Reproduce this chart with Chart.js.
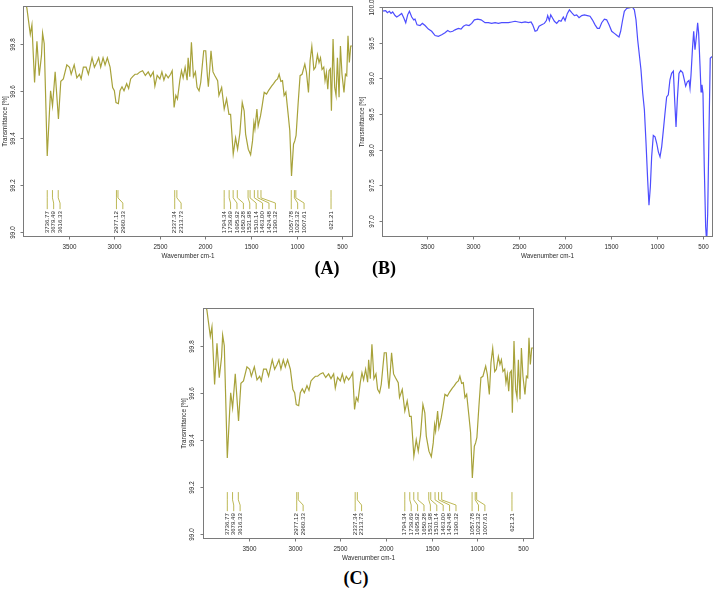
<!DOCTYPE html>
<html><head><meta charset="utf-8">
<script src="https://cdn.jsdelivr.net/npm/chart.js@4.4.0/dist/chart.umd.min.js"></script>
<style>
html,body{margin:0;padding:0;background:#fff;}
#wrap{position:relative;width:713px;height:591px;overflow:hidden;background:#fff;}
canvas{position:absolute;}
.lbl{position:absolute;font-family:"Liberation Serif","Times New Roman",serif;font-weight:bold;font-size:18px;color:#000;transform:translate(-50%,-50%);white-space:nowrap;}
</style></head><body>
<div id="wrap">
<canvas id="cA" width="360" height="262" style="left:0;top:0"></canvas>
<canvas id="cB" width="358" height="262" style="left:355px;top:0"></canvas>
<canvas id="cC" width="360" height="275" style="left:180px;top:290px"></canvas>
<div class="lbl" style="left:327px;top:268px">(A)</div>
<div class="lbl" style="left:384px;top:268px">(B)</div>
<div class="lbl" style="left:356px;top:578px">(C)</div>
</div>
<script>
// ---- Spectrum A / C (same sample) ----
const specA_wn = [
 4003,3985,3960,3923,3905,3876,3850,3825,3800,3788,
 3770,3737,3712,3700,3679,3660,3650,3614,3588,3560,
 3522,3492,3474,3441,3412,3383,3365,3340,3310,3285,
 3245,3219,3193,3172,3150,3124,3102,3077,3047,3019,
 3000,2982,2956,2938,2916,2894,2865,2843,2821,2799,
 2773,2748,2719,2690,2660,2628,2602,2573,2555,2530,
 2500,2478,2456,2435,2409,2383,2365,2344,2325,2307,
 2281,2263,2245,2223,2201,2190,2172,2154,2132,2110,
 2092,2070,2052,2034,2019,1997,1979,1968,1953,1939,
 1917,
 1896,1866,1852,1822,1794,1768,1742,1724,1695,1669,
 1647,1622,1596,1575,1559,1530,1504,1483,1468,1457,
 1435,1421,1395,1377,1355,1329,1304,1274,1252,1230,
 1208,1191,1172,1154,1136,1117,1092,1074,1055,1033,
 1019,1005,983,961,939,909,891,869,851,832,
 810,792,770,753,737,720,701,687,672,657,
 643,628,617,599,581,566,551,533,518,501,
 479,463,449,435,420,405,391];
const specA_T = [
 99.99,99.99,99.95,99.84,99.88,99.635,99.81,99.664,99.75,99.845,
 99.80,99.323,99.515,99.60,99.536,99.63,99.68,99.48,99.64,99.65,
 99.71,99.70,99.67,99.71,99.655,99.67,99.65,99.70,99.70,99.67,
 99.74,99.70,99.72,99.74,99.70,99.74,99.71,99.74,99.70,99.614,
 99.60,99.55,99.545,99.60,99.617,99.60,99.63,99.61,99.65,99.66,
 99.67,99.67,99.68,99.685,99.665,99.68,99.66,99.68,99.62,99.665,
 99.65,99.68,99.645,99.67,99.655,99.67,99.685,99.529,99.58,99.565,
 99.645,99.685,99.655,99.70,99.645,99.74,99.66,99.806,99.66,99.68,
 99.615,99.60,99.635,99.71,99.77,99.77,99.665,99.617,99.69,99.77,
 99.68,
 99.664,99.643,99.58,99.614,99.522,99.565,99.50,99.50,99.331,99.40,
 99.352,99.42,99.55,99.515,99.416,99.352,99.328,99.387,99.465,99.437,
 99.522,99.45,99.494,99.537,99.593,99.586,99.603,99.62,99.63,99.643,
 99.65,99.67,99.64,99.643,99.58,99.594,99.50,99.43,99.238,99.373,
 99.387,99.41,99.543,99.664,99.67,99.713,99.678,99.593,99.728,99.789,
 99.69,99.70,99.753,99.72,99.74,99.69,99.70,99.643,99.678,99.607,
 99.685,99.693,99.515,99.82,99.614,99.58,99.74,99.572,99.79,99.67,
 99.593,99.67,99.664,99.834,99.72,99.79,99.79];

// ---- Spectrum B ----
const specB_wn = [
 3990,3946,3928,3906,3888,3870,3844,3826,3801,3772,
 3750,3728,3707,3688,3663,3641,3627,3605,3572,3547,
 3518,3482,3446,3409,3373,3337,3301,3272,3246,3217,
 3192,3156,3127,3101,3072,3040,3011,2982,2946,2909,
 2866,2830,2793,2757,2721,2685,2649,2612,2576,2540,
 2504,2467,2431,2395,2366,2348,2322,2301,2279,2250,
 2221,2199,2185,2167,2152,2134,2112,2087,2062,2040,
 2015,1996,1971,1949,1924,1895,1870,1844,1815,1786,
 1754,1725,1699,1670,1645,1623,1598,1569,1544,1518,
 1489,1460,1431,1410,1392,1373,1352,1326,1290,1265,
 1243,1225,1207,1189,1171,1152,1134,1116,1098,1084,
 1069,1055,1037,1018,1000,982,964,946,928,910,
 892,874,856,838,819,805,790,776,758,740,
 718,700,685,667,649,638,627,612,598,584,
 565,555,544,529,518,508,497,483,468,457,
 446,432,418,403,395];
const specB_T = [
 99.94,99.95,99.92,99.94,99.91,99.93,99.88,99.86,99.88,99.91,
 99.85,99.78,99.89,99.94,99.86,99.82,99.83,99.75,99.74,99.77,
 99.74,99.69,99.66,99.60,99.59,99.61,99.64,99.67,99.65,99.66,
 99.68,99.70,99.69,99.73,99.75,99.74,99.77,99.82,99.83,99.82,
 99.78,99.78,99.77,99.78,99.77,99.78,99.78,99.78,99.79,99.80,
 99.79,99.78,99.79,99.78,99.79,99.75,99.66,99.67,99.73,99.75,
 99.77,99.81,99.88,99.81,99.89,99.85,99.80,99.77,99.81,99.80,
 99.86,99.81,99.91,99.96,99.92,99.88,99.89,99.85,99.88,99.89,
 99.88,99.87,99.82,99.75,99.70,99.70,99.78,99.83,99.82,99.75,
 99.66,99.63,99.60,99.58,99.66,99.80,99.94,99.98,99.99,100.0,
 99.96,99.82,99.54,99.33,99.12,98.79,98.56,98.09,97.57,97.22,
 97.48,97.90,98.20,98.18,98.09,97.97,97.90,98.04,98.27,98.51,
 98.74,98.77,98.98,99.07,99.10,98.70,98.32,98.70,99.07,99.11,
 99.08,98.98,98.89,98.95,98.97,98.86,99.05,99.40,99.66,99.40,
 99.63,99.78,99.63,99.17,98.81,98.91,98.79,97.76,96.92,96.70,
 97.10,98.23,99.28,99.30,99.30];

// ---- Peak labels (A and C) ----
const peakLabels = [3736.77,3679.49,3616.33,2977.12,2960.33,2337.34,2313.73,
 1794.34,1739.69,1695.92,1650.28,1531.98,1510.14,1463.00,1424.48,1390.32,
 1057.78,1023.32,1007.61,621.21];

// ---- Tick labels ----
const xTicks = [3500,3000,2500,2000,1500,1000,500];
const yTicksA = [99.0,99.2,99.4,99.6,99.8];
const yTicksB = [97.0,97.5,98.0,98.5,99.0,99.5,100.0];

const FONT = '"Liberation Sans", Arial, sans-serif';

const deco = {
  id: 'deco',
  afterDraw(chart, args, o) {
    const {ctx, chartArea: a, scales: {x, y}} = chart;
    ctx.save();
    const L = Math.round(a.left) + 0.5, R = Math.round(a.right) + 0.5;
    const T = Math.round(a.top) + 0.5, B = Math.round(a.bottom) + 0.5;
    ctx.strokeStyle = '#7a7a7a'; ctx.lineWidth = 1;
    ctx.strokeRect(L, T, R - L, B - T);
    ctx.fillStyle = '#2a2a2a';
    ctx.font = '6.3px ' + FONT;
    ctx.textAlign = 'center'; ctx.textBaseline = 'middle';
    o.xTicks.forEach(v => {
      const px = Math.round(x.getPixelForValue(v)) + 0.5;
      ctx.beginPath(); ctx.moveTo(px, B); ctx.lineTo(px, B + 3); ctx.stroke();
      ctx.fillText(String(v), px, B + 10.5);
    });
    o.yTicks.forEach(v => {
      const py = Math.round(y.getPixelForValue(v)) + 0.5;
      ctx.beginPath(); ctx.moveTo(L - 3, py); ctx.lineTo(L, py); ctx.stroke();
      ctx.save(); ctx.translate(L - o.labOff, py); ctx.rotate(-Math.PI / 2);
      ctx.fillText(v.toFixed(1), 0, 0); ctx.restore();
    });
    ctx.fillText('Wavenumber cm-1', (L + R) / 2, B + 20);
    ctx.save(); ctx.translate(L - o.titleOff, (T + B) / 2); ctx.rotate(-Math.PI / 2);
    ctx.fillText('Transmittance [%]', 0, 0); ctx.restore();

    if (o.peaks) {
      const sorted = o.peaks.slice().sort((p, q) => q - p);
      const yTop = y.getPixelForValue(99.178), yK1 = y.getPixelForValue(99.145);
      const yK2 = y.getPixelForValue(99.123), yBot = y.getPixelForValue(99.097);
      let prev = -1e9;
      ctx.font = '6.1px ' + FONT;
      sorted.forEach(wn => {
        const px = x.getPixelForValue(wn);
        const lx = Math.max(px, prev + 6.4); prev = lx;
        ctx.strokeStyle = o.peakColor; ctx.lineWidth = 1;
        ctx.beginPath(); ctx.moveTo(px, yTop); ctx.lineTo(px, yK1);
        ctx.lineTo(lx, yK2); ctx.lineTo(lx, yBot); ctx.stroke();
        ctx.save(); ctx.translate(lx, yBot + 2); ctx.rotate(-Math.PI / 2);
        ctx.textAlign = 'right'; ctx.textBaseline = 'middle';
        ctx.fillStyle = '#2a2a2a';
        ctx.fillText(wn.toFixed(2), 0, 0); ctx.restore();
      });
    }
    ctx.restore();
  }
};

function makeChart(id, wn, tr, color, pad, xr, yr, yTicks, peaks, labOff, titleOff) {
  return new Chart(document.getElementById(id), {
    type: 'line',
    data: { datasets: [{
      data: wn.map((w, i) => ({x: w, y: tr[i]})),
      borderColor: color, borderWidth: 1.2, pointRadius: 0, tension: 0, fill: false
    }]},
    options: {
      responsive: false, animation: false, devicePixelRatio: 1,
      layout: { padding: pad },
      scales: {
        x: { type: 'linear', display: false, reverse: true, min: xr[0], max: xr[1] },
        y: { type: 'linear', display: false, min: yr[0], max: yr[1] }
      },
      plugins: {
        legend: { display: false }, tooltip: { enabled: false },
        deco: { xTicks: xTicks, yTicks: yTicks, peaks: peaks, peakColor: '#bdb855',
                labOff: labOff, titleOff: titleOff }
      }
    },
    plugins: [deco]
  });
}

const colA = '#a7a23a';
makeChart('cA', specA_wn, specA_T, colA, {left: 23, top: 6, right: 8, bottom: 26},
  [391, 4003], [98.983, 99.96], yTicksA, peakLabels, 10.5, 18.5);
makeChart('cB', specB_wn, specB_T, '#4d4dff', {left: 27, top: 7, right: 1, bottom: 26},
  [399, 3986], [96.79, 100.0], yTicksB, null, 10.5, 20.5);
makeChart('cC', specA_wn, specA_T, colA, {left: 23, top: 18, right: 7, bottom: 27},
  [391, 4003], [98.983, 99.96], yTicksA, peakLabels, 11, 19.5);
</script>
</body></html>
